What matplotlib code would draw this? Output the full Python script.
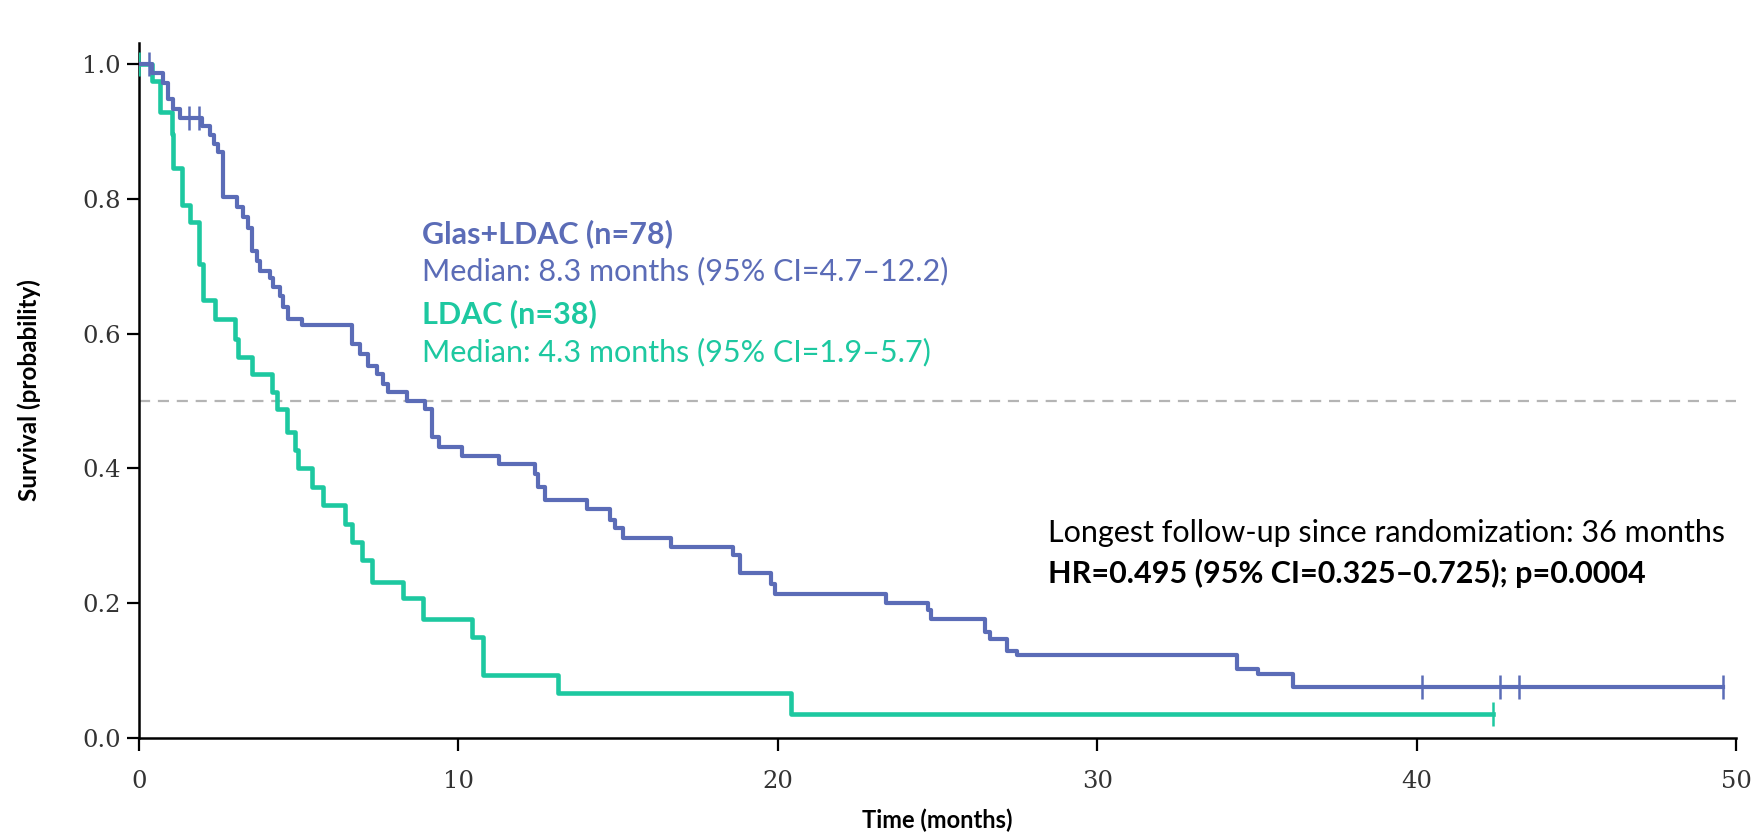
"""
Kaplan-Meier style survival curves: Glas+LDAC vs LDAC.
"""

import matplotlib
matplotlib.use('Agg')
import matplotlib.pyplot as plt

# Glas+LDAC (n=78): event times (months) and survival after each step
glas_times = [0.0, 0.40, 0.76, 0.92, 1.07, 1.28, 1.96, 2.22, 2.35, 2.48, 2.62,
              3.06, 3.26, 3.42, 3.53, 3.68, 3.79, 4.10, 4.20, 4.41, 4.52, 4.67,
              5.09, 6.66, 6.92, 7.18, 7.45, 7.65, 7.80, 8.40, 8.95, 9.16, 9.40,
              10.10, 11.28, 12.39, 12.50, 12.71, 14.01, 14.74, 14.90, 15.16,
              16.67, 18.60, 18.81, 19.80, 19.90, 23.40, 24.70, 24.80, 26.48,
              26.65, 27.16, 27.50, 34.36, 35.03, 36.13, 49.6]
glas_surv = [1.0, 0.987, 0.972, 0.948, 0.933, 0.920, 0.908, 0.895, 0.881, 0.869,
             0.802, 0.788, 0.773, 0.757, 0.723, 0.708, 0.693, 0.683, 0.669, 0.656,
             0.639, 0.622, 0.613, 0.585, 0.570, 0.552, 0.540, 0.525, 0.513, 0.500,
             0.488, 0.446, 0.432, 0.419, 0.407, 0.392, 0.373, 0.353, 0.340, 0.323,
             0.311, 0.296, 0.283, 0.271, 0.244, 0.229, 0.214, 0.200, 0.190, 0.177,
             0.157, 0.147, 0.129, 0.123, 0.103, 0.095, 0.076, 0.076]
glas_censor_t = [0.32, 1.58, 1.87, 40.16, 42.6, 43.2, 49.6]
glas_censor_s = [1.0, 0.920, 0.920, 0.076, 0.076, 0.076, 0.076]

# LDAC (n=38)
ldac_times = [0.0, 0.40, 0.65, 1.02, 1.05, 1.34, 1.60, 1.88, 2.01, 2.38, 3.00,
              3.10, 3.53, 4.15, 4.31, 4.62, 4.88, 4.99, 5.40, 5.77, 6.45, 6.66,
              6.97, 7.28, 8.27, 8.90, 10.41, 10.78, 13.12, 20.40, 42.4]
ldac_surv = [1.0, 0.974, 0.928, 0.896, 0.846, 0.790, 0.765, 0.703, 0.650, 0.622,
             0.592, 0.565, 0.540, 0.513, 0.488, 0.454, 0.427, 0.400, 0.372, 0.345,
             0.318, 0.291, 0.264, 0.232, 0.207, 0.177, 0.150, 0.093, 0.066, 0.035,
             0.035]
ldac_censor_t = [0.0, 42.4]
ldac_censor_s = [1.0, 0.035]

x_ticks = [0, 10, 20, 30, 40, 50]
y_ticks = [0.0, 0.2, 0.4, 0.6, 0.8, 1.0]

BLUE = '#5B6CB7'
GREEN = '#1DC8A0'
TXT = 'Lato'


def main():
    fig = plt.figure(figsize=(17.62, 8.39), dpi=100)
    ax = fig.add_axes([0.0789, 0.1204, 0.9064, 0.8284])

    ax.axhline(0.5, color='#b4b4b4', lw=1.6, ls=(0, (5, 3.5)), zorder=1)

    ax.step(ldac_times, ldac_surv, where='post', color=GREEN, lw=3.3, zorder=3)
    ax.plot(ldac_censor_t, ldac_censor_s, ls='none', marker='|', ms=17,
            mew=1.8, color=GREEN, zorder=3)
    ax.step(glas_times, glas_surv, where='post', color=BLUE, lw=3.0, zorder=4)
    ax.plot(glas_censor_t, glas_censor_s, ls='none', marker='|', ms=17,
            mew=1.8, color=BLUE, zorder=4)

    ax.set_xlim(0, 50)
    ax.set_ylim(0, 1.031)
    ax.set_xticks(x_ticks)
    ax.set_yticks(y_ticks)
    ax.set_xticklabels([str(v) for v in x_ticks])
    ax.set_yticklabels(['%.1f' % v for v in y_ticks])
    for lab in ax.get_xticklabels() + ax.get_yticklabels():
        lab.set_family('DejaVu Serif')
        lab.set_fontsize(17.5)
        lab.set_color('#333333')
    ax.tick_params(length=9, width=1.6, color='black')
    ax.tick_params(axis='x', pad=14)
    ax.tick_params(axis='y', pad=4)

    for side in ['top', 'right']:
        ax.spines[side].set_visible(False)
    for side in ['left', 'bottom']:
        ax.spines[side].set_linewidth(1.8)

    ax.set_xlabel('Time (months)', family=TXT, fontweight='bold', fontsize=17,
                  labelpad=11)
    ax.set_ylabel('Survival (probability)', family=TXT, fontweight='bold',
                  fontsize=17.5, labelpad=30)

    fs = 22
    ax.text(8.86, 0.748, 'Glas+LDAC (n=78)', color=BLUE, family=TXT,
            fontweight='bold', fontsize=fs, va='center')
    ax.text(8.86, 0.693, 'Median: 8.3 months (95% CI=4.7\u201312.2)', color=BLUE,
            family=TXT, fontsize=fs, va='center')
    ax.text(8.86, 0.630, 'LDAC (n=38)', color=GREEN, family=TXT,
            fontweight='bold', fontsize=fs, va='center')
    ax.text(8.86, 0.572, 'Median: 4.3 months (95% CI=1.9\u20135.7)', color=GREEN,
            family=TXT, fontsize=fs, va='center')

    ax.text(28.45, 0.304, 'Longest follow-up since randomization: 36 months',
            color='black', family=TXT, fontsize=fs, va='center')
    ax.text(28.45, 0.244, 'HR=0.495 (95% CI=0.325\u20130.725); p=0.0004',
            color='black', family=TXT, fontweight='bold', fontsize=fs, va='center')

    fig.savefig('out.png', dpi=100)
    plt.close(fig)


if __name__ == '__main__':
    main()
